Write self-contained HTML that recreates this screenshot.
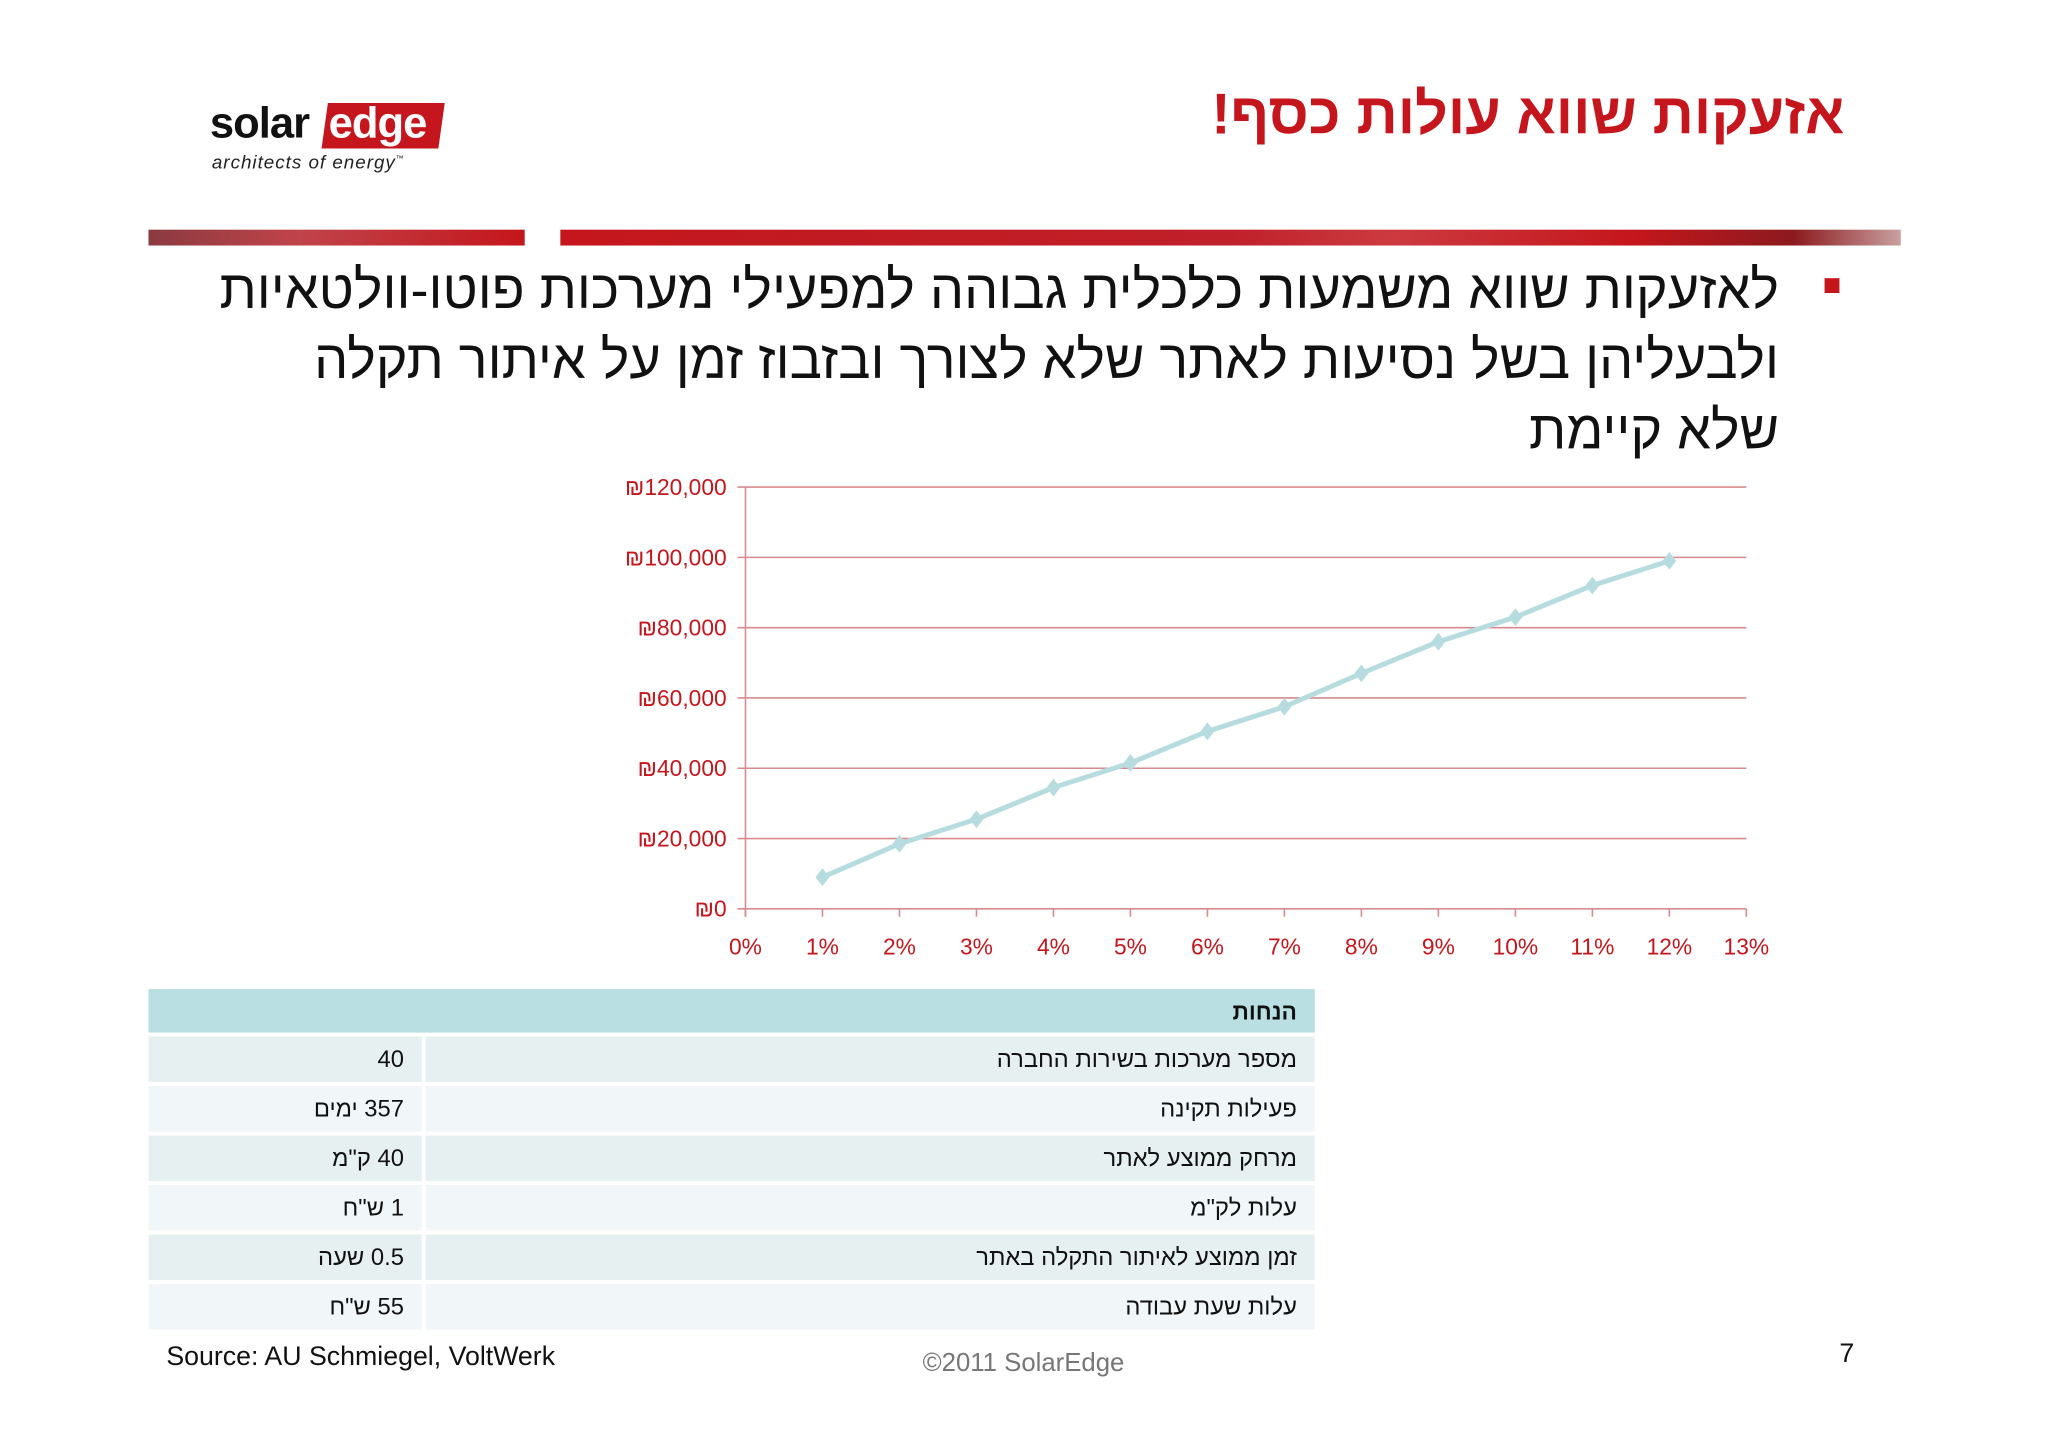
<!DOCTYPE html>
<html><head><meta charset="utf-8"><style>
body{margin:0;width:2048px;height:1447px;background:#fff;position:relative;overflow:hidden;font-family:"Liberation Sans","Noto Sans CJK SC",sans-serif}
#wrap{position:absolute;left:0;top:0;width:2048px;height:1447px;transform:scale(0.99);transform-origin:0 0}
.a{position:absolute}
.rtl{direction:rtl}
</style></head><body><div id="wrap">
<div class="a" style="left:212px;top:100px;width:250px;height:80px">
 <div class="a" style="left:0;top:0;font-size:44px;font-weight:bold;color:#111;letter-spacing:-1px">solar</div>
 <div class="a" style="left:116px;top:4px;width:118px;height:46px;background:#c4161c;transform:skewX(-8deg)"></div>
 <div class="a" style="left:120px;top:0;font-size:44px;font-weight:bold;color:#fff;letter-spacing:-1px">edge</div>
 <div class="a" style="left:2px;top:54px;font-size:19px;font-style:italic;color:#222;letter-spacing:1px">architects of energy<sup style="font-size:8px">™</sup></div>
</div>
<div class="a rtl" style="right:185px;top:82px;font-size:58px;font-weight:bold;color:#c4161c">אזעקות שווא עולות כסף!</div>
<div class="a" style="left:150px;top:232px;width:380px;height:16px;background:linear-gradient(90deg,#8a3a40,#c0444a 40%,#c4161c)"></div>
<div class="a" style="left:566px;top:232px;width:1354px;height:16px;background:linear-gradient(90deg,#c4161c,#c0202a 50%,#cc3a40 62%,#c4161c 80%,#8c1a1e 92%,#c9a0a0)"></div>
<div class="a" style="left:1843px;top:281px;width:15px;height:15px;background:#c4161c"></div>
<div class="a rtl" style="right:251px;top:257px;width:1700px;font-size:54.5px;line-height:71px;color:#111;text-align:right">לאזעקות שווא משמעות כלכלית גבוהה למפעילי מערכות פוטו-וולטאיות<br>ולבעליהן בשל נסיעות לאתר שלא לצורך ובזבוז זמן על איתור תקלה<br>שלא קיימת</div>
<svg class="a" style="left:0;top:0" width="2048" height="1447">
<g id="g"></g></svg>
<script>
const xCats=['0%','1%','2%','3%','4%','5%','6%','7%','8%','9%','10%','11%','12%','13%'];
const xVals=[1,2,3,4,5,6,7,8,9,10,11,12];
const yVals=[9000,18500,25500,34500,41500,50500,57500,67000,76000,83000,92000,99000];
const yTicks=[0,20000,40000,60000,80000,100000,120000];
const yLabels=['₪0','₪20,000','₪40,000','₪60,000','₪80,000','₪100,000','₪120,000'];
const L=753,R=1764,T=492,B=918;
const X=v=>L+(R-L)*v/13, Y=v=>B-(B-T)*v/120000;
const g=document.getElementById('g'),NS='http://www.w3.org/2000/svg';
function mk(t,a){const e=document.createElementNS(NS,t);for(const k in a)e.setAttribute(k,a[k]);g.appendChild(e);return e;}
yTicks.forEach((t,i)=>{
 const l=mk('line',{x1:L-8,x2:R,y1:Y(t),y2:Y(t),stroke:'#d98a8e','stroke-width':1.6});
 
 
 const tx=mk('text',{x:L-19,y:Y(t)+8,'text-anchor':'end','font-size':23,fill:'#c4161c','font-family':'Liberation Sans'});
 tx.textContent=yLabels[i];
 
 
});
mk('line',{x1:L,x2:L,y1:T,y2:B+8,stroke:'#d98a8e','stroke-width':1.6});
xCats.forEach((c,i)=>{
 mk('line',{x1:X(i),x2:X(i),y1:B,y2:B+8,stroke:'#d98a8e','stroke-width':1.6});
 const tx=mk('text',{x:X(i),y:B+46,'text-anchor':'middle','font-size':23,fill:'#c4161c','font-family':'Liberation Sans'});
 tx.textContent=c;
 
 
});
const p=mk('polyline',{points:xVals.map((x,i)=>X(x)+','+Y(yVals[i])).join(' '),fill:'none',stroke:'#b7dcdf','stroke-width':5});


xVals.forEach((x,i)=>{
 const cx=X(x),cy=Y(yVals[i]);
 const d=mk('polygon',{points:`${cx},${cy-9} ${cx+7},${cy} ${cx},${cy+9} ${cx-7},${cy}`,fill:'#b7dcdf'});
 
 
});
</script>
<div class="a" style="left:150px;top:999px;width:1178px">
 <div class="rtl" style="height:44px;background:#b9dfe3;font-size:23px;font-weight:bold;line-height:46px;padding-right:18px;color:#111">הנחות</div>
 <div id="rows"></div>
</div>
<script>
const rowsLabel=['מספר מערכות בשירות החברה','פעילות תקינה','מרחק ממוצע לאתר','עלות לק"מ','זמן ממוצע לאיתור התקלה באתר','עלות שעת עבודה'];
const rowsVal=['40','357 ימים','40 ק"מ','1 ש"ח','0.5 שעה','55 ש"ח'];
const rc=document.getElementById('rows');
rowsLabel.forEach((l,i)=>{
 const r=document.createElement('div');
 
 
 r.style.cssText=`display:flex;height:46px;margin-top:4px;font-size:24px;line-height:48px;color:#111;direction:rtl`;
 const bg=i%2?'#f1f7f8':'#e6f0f1';
 r.innerHTML=`<div style="flex:1;background:${bg};padding-right:18px">${l}</div><div style="width:4px"></div><div style="width:276px;background:${bg};padding-right:0;text-align:left;direction:ltr"><span style="float:right;margin-right:18px;direction:rtl">${rowsVal[i]}</span></div>`;
 rc.appendChild(r);
});
</script>
<div class="a" style="left:168px;top:1355px;font-size:27px;color:#111">Source: AU Schmiegel, VoltWerk</div>
<div class="a" style="left:932px;top:1361px;font-size:26px;color:#777">©2011 SolarEdge</div>
<div class="a" style="left:1858px;top:1352px;font-size:27px;color:#111">7</div>
</div></body></html>
